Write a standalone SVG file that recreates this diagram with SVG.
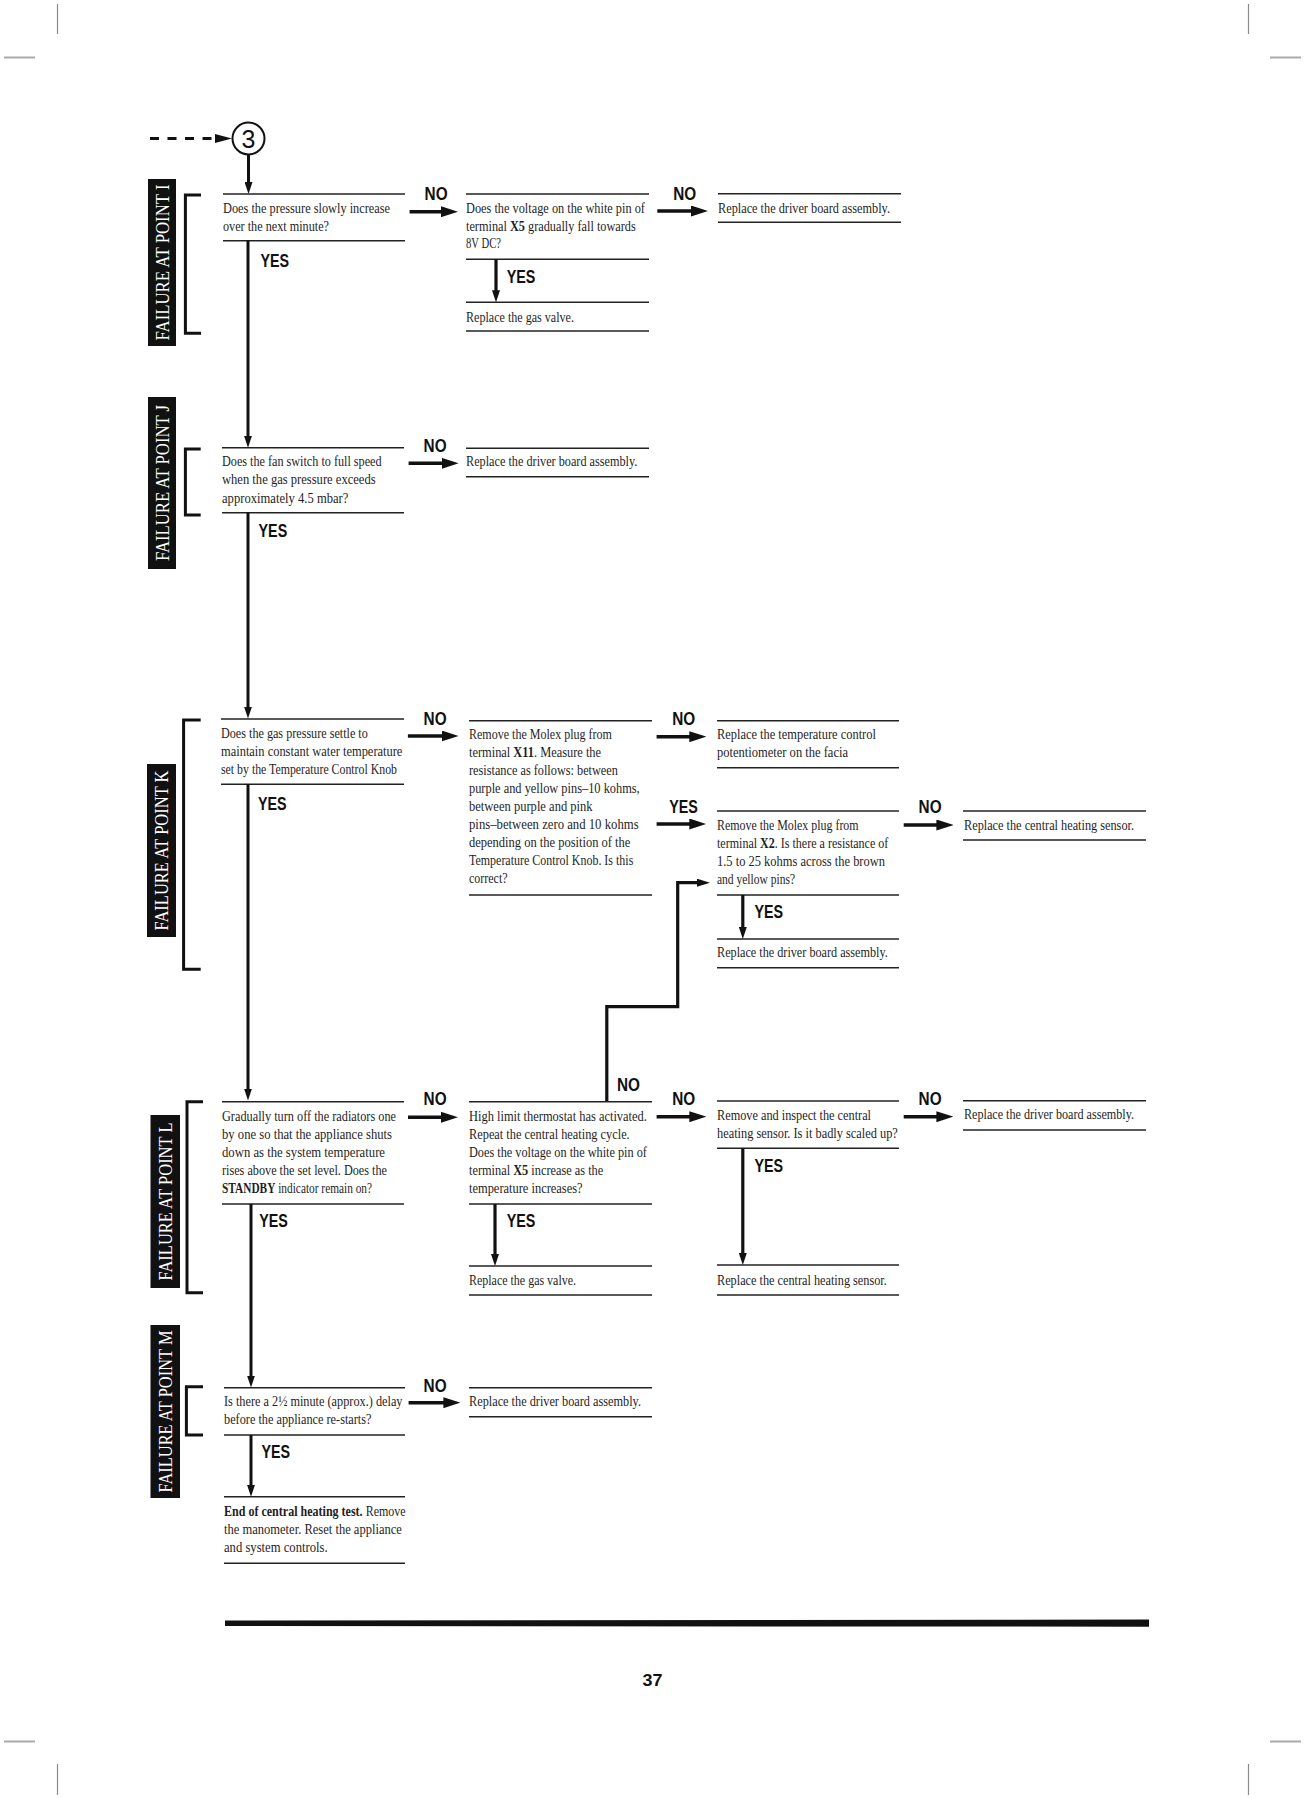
<svg xmlns="http://www.w3.org/2000/svg" width="1304" height="1798" viewBox="0 0 1304 1798">
<defs>
<style>
.t{font-family:"Liberation Serif","Times New Roman",serif;font-size:15.5px;fill:#1e1e1e}
.b{font-weight:bold}
.lbl{font-family:"Liberation Sans",Arial,sans-serif;font-weight:bold;font-size:18px;fill:#111}
.rule{stroke:#222;stroke-width:1.6}
.tag rect{fill:#111}
.tag text{fill:#fff;font-family:"Liberation Serif","Times New Roman",serif;font-size:19px;text-anchor:middle}
.main{stroke:#111;stroke-width:3;fill:none}
.har{stroke:#111;stroke-width:3.6;fill:none}
.var{stroke:#111;stroke-width:3.2;fill:none}
.brk{stroke:#111;stroke-width:3;fill:none}
.crop{stroke:#8a8a8a;fill:none}
</style>
<marker id="ah" markerUnits="userSpaceOnUse" markerWidth="17" markerHeight="11" refX="6" refY="5.5" orient="auto"><path d="M0,0 L17,5.5 L0,11 z" fill="#111"/></marker>
<marker id="av" markerUnits="userSpaceOnUse" markerWidth="12" markerHeight="8" refX="4" refY="4" orient="auto"><path d="M0,0 L12,4 L0,8 z" fill="#111"/></marker>
<marker id="al" markerUnits="userSpaceOnUse" markerWidth="13" markerHeight="8" refX="3" refY="4" orient="auto"><path d="M0,0 L13,4 L0,8 z" fill="#111"/></marker>
</defs>
<rect width="1304" height="1798" fill="#fff"/>

<g id="cropmarks" class="crop">
<line x1="57.5" y1="4" x2="57.5" y2="34" stroke-width="1.2"/>
<line x1="1248.5" y1="4" x2="1248.5" y2="34" stroke-width="1.2"/>
<line x1="57.5" y1="1764" x2="57.5" y2="1795" stroke-width="1.2"/>
<line x1="1248.5" y1="1764" x2="1248.5" y2="1795" stroke-width="1.2"/>
<line x1="4" y1="57.5" x2="35" y2="57.5" stroke-width="2" stroke="#aaa"/>
<line x1="1270" y1="57.5" x2="1301" y2="57.5" stroke-width="2" stroke="#aaa"/>
<line x1="4" y1="1741.5" x2="35" y2="1741.5" stroke-width="2" stroke="#aaa"/>
<line x1="1270" y1="1741.5" x2="1301" y2="1741.5" stroke-width="2" stroke="#aaa"/>
</g>

<g id="tags" class="tag">
<g id="tagI"><rect x="148" y="179" width="28" height="167"/><text transform="translate(162,262.5) rotate(-90)" y="6.5" textLength="156" lengthAdjust="spacingAndGlyphs">FAILURE AT POINT I</text></g>
<g id="tagJ"><rect x="148" y="397" width="28" height="172"/><text transform="translate(162,483) rotate(-90)" y="6.5" textLength="156" lengthAdjust="spacingAndGlyphs">FAILURE AT POINT J</text></g>
<g id="tagK"><rect x="147" y="764" width="29" height="173"/><text transform="translate(161.5,850.5) rotate(-90)" y="6.5" textLength="160" lengthAdjust="spacingAndGlyphs">FAILURE AT POINT K</text></g>
<g id="tagL"><rect x="150.5" y="1115" width="29.5" height="173"/><text transform="translate(165.3,1201.5) rotate(-90)" y="6.5" textLength="158" lengthAdjust="spacingAndGlyphs">FAILURE AT POINT L</text></g>
<g id="tagM"><rect x="150.5" y="1325" width="29.5" height="173"/><text transform="translate(165.3,1411.5) rotate(-90)" y="6.5" textLength="162" lengthAdjust="spacingAndGlyphs">FAILURE AT POINT M</text></g>
</g>

<g id="brackets" class="brk">
<path d="M201,195 H185.4 V333.3 H201"/>
<path d="M200.7,449 H185.4 V515 H200.7"/>
<path d="M200.7,720 H183.6 V969.3 H200.7"/>
<path d="M203,1101.7 H187 V1292.7 H203"/>
<path d="M203,1386.7 H186.4 V1435 H203"/>
</g>

<g id="start">
<circle cx="248.5" cy="138.5" r="16" fill="none" stroke="#111" stroke-width="2"/>
<text x="248.5" y="147.5" text-anchor="middle" style="font-family:'Liberation Sans',Arial,sans-serif;font-size:25px;fill:#111">3</text>
</g>

<g id="n1">
<line class="rule" x1="223" y1="194" x2="405" y2="194"/><line class="rule" x1="223" y1="240.7" x2="405" y2="240.7"/>
<text class="t" x="223" y="213.3" textLength="167" lengthAdjust="spacingAndGlyphs">Does the pressure slowly increase</text>
<text class="t" x="223" y="230.7" textLength="106" lengthAdjust="spacingAndGlyphs">over the next minute?</text>
</g>
<g id="n2">
<line class="rule" x1="466" y1="194" x2="649" y2="194"/><line class="rule" x1="466" y1="259.3" x2="649" y2="259.3"/>
<text class="t" transform="matrix(0.795,0,0,1,466,213.3)">Does the voltage on the white pin of</text>
<text class="t" transform="matrix(0.793,0,0,1,466,230.7)">terminal <tspan class="b">X5</tspan> gradually fall towards</text>
<text class="t" x="466" y="248.3" textLength="35" lengthAdjust="spacingAndGlyphs">8V DC?</text>
</g>
<g id="n2r">
<line class="rule" x1="466" y1="302.3" x2="649" y2="302.3"/><line class="rule" x1="466" y1="331" x2="649" y2="331"/>
<text class="t" x="466" y="321.7" textLength="108" lengthAdjust="spacingAndGlyphs">Replace the gas valve.</text>
</g>
<g id="n3">
<line class="rule" x1="718" y1="193.7" x2="901" y2="193.7"/><line class="rule" x1="718" y1="222.3" x2="901" y2="222.3"/>
<text class="t" x="718" y="213.3" textLength="172" lengthAdjust="spacingAndGlyphs">Replace the driver board assembly.</text>
</g>

<g id="n4">
<line class="rule" x1="222" y1="447.7" x2="404" y2="447.7"/><line class="rule" x1="222" y1="512.7" x2="404" y2="512.7"/>
<text class="t" x="222" y="466" textLength="159.6" lengthAdjust="spacingAndGlyphs">Does the fan switch to full speed</text>
<text class="t" x="222" y="484" textLength="153.6" lengthAdjust="spacingAndGlyphs">when the gas pressure exceeds</text>
<text class="t" x="222" y="502.7" textLength="126.4" lengthAdjust="spacingAndGlyphs">approximately 4.5 mbar?</text>
</g>
<g id="n5">
<line class="rule" x1="466" y1="448.3" x2="649" y2="448.3"/><line class="rule" x1="466" y1="476.7" x2="649" y2="476.7"/>
<text class="t" x="466" y="466" textLength="171.4" lengthAdjust="spacingAndGlyphs">Replace the driver board assembly.</text>
</g>

<g id="n6">
<line class="rule" x1="221" y1="719" x2="404" y2="719"/><line class="rule" x1="221" y1="784.3" x2="404" y2="784.3"/>
<text class="t" x="221" y="738.3" textLength="146.8" lengthAdjust="spacingAndGlyphs">Does the gas pressure settle to</text>
<text class="t" x="221" y="756" textLength="181.4" lengthAdjust="spacingAndGlyphs">maintain constant water temperature</text>
<text class="t" x="221" y="774" textLength="176" lengthAdjust="spacingAndGlyphs">set by the Temperature Control Knob</text>
</g>
<g id="n7">
<line class="rule" x1="469" y1="720.7" x2="652" y2="720.7"/><line class="rule" x1="469" y1="895" x2="652" y2="895"/>
<text class="t" x="469" y="739.3" textLength="142.9" lengthAdjust="spacingAndGlyphs">Remove the Molex plug from</text>
<text class="t" transform="matrix(0.8,0,0,1,469,757.3)">terminal <tspan class="b">X11</tspan>. Measure the</text>
<text class="t" x="469" y="775.3" textLength="148.9" lengthAdjust="spacingAndGlyphs">resistance as follows: between</text>
<text class="t" x="469" y="793.3" textLength="170.7" lengthAdjust="spacingAndGlyphs">purple and yellow pins–10 kohms,</text>
<text class="t" x="469" y="811.3" textLength="123.6" lengthAdjust="spacingAndGlyphs">between purple and pink</text>
<text class="t" x="469" y="829.3" textLength="169.6" lengthAdjust="spacingAndGlyphs">pins–between  zero and 10 kohms</text>
<text class="t" x="469" y="847.3" textLength="161.4" lengthAdjust="spacingAndGlyphs">depending on the position of the</text>
<text class="t" x="469" y="865.3" textLength="164.3" lengthAdjust="spacingAndGlyphs">Temperature Control Knob. Is this</text>
<text class="t" x="469" y="883.3" textLength="38.6" lengthAdjust="spacingAndGlyphs">correct?</text>
</g>
<g id="n8">
<line class="rule" x1="717" y1="720.7" x2="899" y2="720.7"/><line class="rule" x1="717" y1="767.7" x2="899" y2="767.7"/>
<text class="t" x="717" y="739.3" textLength="158.9" lengthAdjust="spacingAndGlyphs">Replace the temperature control</text>
<text class="t" x="717" y="757.3" textLength="131" lengthAdjust="spacingAndGlyphs">potentiometer on the facia</text>
</g>
<g id="n9">
<line class="rule" x1="717" y1="811" x2="899" y2="811"/><line class="rule" x1="717" y1="895" x2="899" y2="895"/>
<text class="t" x="717" y="830" textLength="141.6" lengthAdjust="spacingAndGlyphs">Remove the Molex plug from</text>
<text class="t" transform="matrix(0.777,0,0,1,717,848)">terminal <tspan class="b">X2</tspan>. Is there a resistance of</text>
<text class="t" x="717" y="866" textLength="168" lengthAdjust="spacingAndGlyphs">1.5 to 25 kohms across the brown</text>
<text class="t" x="717" y="884" textLength="78" lengthAdjust="spacingAndGlyphs">and yellow pins?</text>
</g>
<g id="n9r">
<line class="rule" x1="717" y1="939" x2="899" y2="939"/><line class="rule" x1="717" y1="967.7" x2="899" y2="967.7"/>
<text class="t" x="717" y="956.7" textLength="170.8" lengthAdjust="spacingAndGlyphs">Replace the driver board assembly.</text>
</g>
<g id="n10">
<line class="rule" x1="963" y1="811" x2="1146" y2="811"/><line class="rule" x1="963" y1="840" x2="1146" y2="840"/>
<text class="t" x="964" y="830" textLength="170" lengthAdjust="spacingAndGlyphs">Replace the central heating sensor.</text>
</g>

<g id="n11">
<line class="rule" x1="222" y1="1101.7" x2="404" y2="1101.7"/><line class="rule" x1="222" y1="1204" x2="404" y2="1204"/>
<text class="t" x="222" y="1120.7" textLength="174" lengthAdjust="spacingAndGlyphs">Gradually turn off the radiators one</text>
<text class="t" x="222" y="1139" textLength="170" lengthAdjust="spacingAndGlyphs">by one so that the appliance shuts</text>
<text class="t" x="222" y="1157" textLength="163" lengthAdjust="spacingAndGlyphs">down as the system temperature</text>
<text class="t" x="222" y="1175.3" textLength="165" lengthAdjust="spacingAndGlyphs">rises above the set level. Does the</text>
<text class="t" transform="matrix(0.732,0,0,1,222,1193.3)"><tspan class="b">STANDBY</tspan> indicator remain on?</text>
</g>
<g id="n12">
<line class="rule" x1="469" y1="1101.7" x2="652" y2="1101.7"/><line class="rule" x1="469" y1="1204" x2="652" y2="1204"/>
<text class="t" x="469" y="1120.7" textLength="177.9" lengthAdjust="spacingAndGlyphs">High limit thermostat has activated.</text>
<text class="t" x="469" y="1139" textLength="160.7" lengthAdjust="spacingAndGlyphs">Repeat the central heating cycle.</text>
<text class="t" x="469" y="1157" textLength="177.9" lengthAdjust="spacingAndGlyphs">Does the voltage on the white pin of</text>
<text class="t" transform="matrix(0.796,0,0,1,469,1175.3)">terminal <tspan class="b">X5</tspan> increase as the</text>
<text class="t" x="469" y="1193.3" textLength="113.6" lengthAdjust="spacingAndGlyphs">temperature increases?</text>
</g>
<g id="n12r">
<line class="rule" x1="469" y1="1266" x2="652" y2="1266"/><line class="rule" x1="469" y1="1295" x2="652" y2="1295"/>
<text class="t" x="469" y="1285" textLength="107" lengthAdjust="spacingAndGlyphs">Replace the gas valve.</text>
</g>
<g id="n13">
<line class="rule" x1="717" y1="1101" x2="899" y2="1101"/><line class="rule" x1="717" y1="1148.3" x2="899" y2="1148.3"/>
<text class="t" x="717" y="1120" textLength="154" lengthAdjust="spacingAndGlyphs">Remove and inspect the central</text>
<text class="t" x="717" y="1138.3" textLength="180.8" lengthAdjust="spacingAndGlyphs">heating sensor. Is it badly scaled up?</text>
</g>
<g id="n13r">
<line class="rule" x1="717" y1="1265" x2="899" y2="1265"/><line class="rule" x1="717" y1="1295" x2="899" y2="1295"/>
<text class="t" x="717" y="1285" textLength="169.8" lengthAdjust="spacingAndGlyphs">Replace the central heating sensor.</text>
</g>
<g id="n14">
<line class="rule" x1="963" y1="1100.7" x2="1146" y2="1100.7"/><line class="rule" x1="963" y1="1130" x2="1146" y2="1130"/>
<text class="t" x="964" y="1119.3" textLength="170" lengthAdjust="spacingAndGlyphs">Replace the driver board assembly.</text>
</g>

<g id="n15">
<line class="rule" x1="224" y1="1387.7" x2="405" y2="1387.7"/><line class="rule" x1="224" y1="1435" x2="405" y2="1435"/>
<text class="t" transform="matrix(0.792,0,0,1,224,1406)">Is there a 2½ minute (approx.) delay</text>
<text class="t" x="224" y="1424" textLength="147.5" lengthAdjust="spacingAndGlyphs">before the appliance re-starts?</text>
</g>
<g id="n16">
<line class="rule" x1="469" y1="1387.7" x2="652" y2="1387.7"/><line class="rule" x1="469" y1="1416.7" x2="652" y2="1416.7"/>
<text class="t" x="469" y="1406" textLength="172" lengthAdjust="spacingAndGlyphs">Replace the driver board assembly.</text>
</g>
<g id="n17">
<line class="rule" x1="224" y1="1496.7" x2="405" y2="1496.7"/><line class="rule" x1="224" y1="1563.3" x2="405" y2="1563.3"/>
<text class="t" transform="matrix(0.777,0,0,1,224,1516)"><tspan class="b">End of central heating test.</tspan> Remove</text>
<text class="t" x="224" y="1534" textLength="177.9" lengthAdjust="spacingAndGlyphs">the manometer. Reset the appliance</text>
<text class="t" x="224" y="1552.3" textLength="103.6" lengthAdjust="spacingAndGlyphs">and system controls.</text>
</g>

<g id="connectors">
<line x1="150" y1="138.5" x2="212" y2="138.5" stroke="#111" stroke-width="3" stroke-dasharray="9 8.5"/>
<path d="M215,134 L232,138.5 L215,143 z" fill="#111"/>
<line class="main" x1="248.5" y1="154.5" x2="248.5" y2="186" marker-end="url(#av)"/>
<line class="main" x1="248" y1="240.7" x2="248" y2="439.7" marker-end="url(#av)"/>
<line class="main" x1="248" y1="512.7" x2="248" y2="710.5" marker-end="url(#av)"/>
<line class="main" x1="248" y1="784.3" x2="248" y2="1092.5" marker-end="url(#av)"/>
<line class="main" x1="251" y1="1204" x2="251" y2="1379.5" marker-end="url(#av)"/>
<line class="main" x1="251" y1="1435" x2="251" y2="1488.7" marker-end="url(#av)"/>

<line class="var" x1="496" y1="259.3" x2="496" y2="294.3" marker-end="url(#av)"/>
<line class="var" x1="742.8" y1="895" x2="742.8" y2="931" marker-end="url(#av)"/>
<line class="var" x1="495" y1="1204" x2="495" y2="1258" marker-end="url(#av)"/>
<line class="var" x1="742.8" y1="1148.3" x2="742.8" y2="1257" marker-end="url(#av)"/>

<line class="har" x1="409.6" y1="211.7" x2="447" y2="211.7" marker-end="url(#ah)"/>
<line class="har" x1="657.3" y1="211" x2="697" y2="211" marker-end="url(#ah)"/>
<line class="har" x1="408.6" y1="463.3" x2="447.6" y2="463.3" marker-end="url(#ah)"/>
<line class="har" x1="407.9" y1="736" x2="447.6" y2="736" marker-end="url(#ah)"/>
<line class="har" x1="656.6" y1="736.7" x2="695.3" y2="736.7" marker-end="url(#ah)"/>
<line class="har" x1="656.6" y1="824" x2="695.3" y2="824" marker-end="url(#ah)"/>
<line class="har" x1="903.7" y1="825" x2="942.4" y2="825" marker-end="url(#ah)"/>
<line class="har" x1="408" y1="1117.3" x2="447" y2="1117.3" marker-end="url(#ah)"/>
<line class="har" x1="656.6" y1="1116.7" x2="695.3" y2="1116.7" marker-end="url(#ah)"/>
<line class="har" x1="903.7" y1="1116.7" x2="942.4" y2="1116.7" marker-end="url(#ah)"/>
<line class="har" x1="408.6" y1="1402.7" x2="449.4" y2="1402.7" marker-end="url(#ah)"/>

<path class="var" d="M606.8,1101 V1006.7 H677.7 V882.7 H700" marker-end="url(#al)"/>

<text class="lbl" x="424.6" y="200" textLength="23" lengthAdjust="spacingAndGlyphs">NO</text>
<text class="lbl" x="673.3" y="200" textLength="23" lengthAdjust="spacingAndGlyphs">NO</text>
<text class="lbl" x="260.4" y="266.7" textLength="28.6" lengthAdjust="spacingAndGlyphs">YES</text>
<text class="lbl" x="506.8" y="283.3" textLength="28.6" lengthAdjust="spacingAndGlyphs">YES</text>
<text class="lbl" x="423.6" y="451.7" textLength="23" lengthAdjust="spacingAndGlyphs">NO</text>
<text class="lbl" x="258.6" y="537.3" textLength="28.6" lengthAdjust="spacingAndGlyphs">YES</text>
<text class="lbl" x="423.6" y="725" textLength="23" lengthAdjust="spacingAndGlyphs">NO</text>
<text class="lbl" x="672.2" y="725" textLength="23" lengthAdjust="spacingAndGlyphs">NO</text>
<text class="lbl" x="669.2" y="812.7" textLength="28.6" lengthAdjust="spacingAndGlyphs">YES</text>
<text class="lbl" x="918.6" y="813.3" textLength="23" lengthAdjust="spacingAndGlyphs">NO</text>
<text class="lbl" x="257.9" y="810" textLength="28.6" lengthAdjust="spacingAndGlyphs">YES</text>
<text class="lbl" x="754.4" y="918.3" textLength="28.6" lengthAdjust="spacingAndGlyphs">YES</text>
<text class="lbl" x="617" y="1090.5" textLength="23" lengthAdjust="spacingAndGlyphs">NO</text>
<text class="lbl" x="423.6" y="1105" textLength="23" lengthAdjust="spacingAndGlyphs">NO</text>
<text class="lbl" x="672.2" y="1105" textLength="23" lengthAdjust="spacingAndGlyphs">NO</text>
<text class="lbl" x="918.6" y="1105" textLength="23" lengthAdjust="spacingAndGlyphs">NO</text>
<text class="lbl" x="259.3" y="1226.7" textLength="28.6" lengthAdjust="spacingAndGlyphs">YES</text>
<text class="lbl" x="506.8" y="1226.7" textLength="28.6" lengthAdjust="spacingAndGlyphs">YES</text>
<text class="lbl" x="754.4" y="1171.7" textLength="28.6" lengthAdjust="spacingAndGlyphs">YES</text>
<text class="lbl" x="423.6" y="1391.7" textLength="23" lengthAdjust="spacingAndGlyphs">NO</text>
<text class="lbl" x="261.4" y="1458.3" textLength="28.6" lengthAdjust="spacingAndGlyphs">YES</text>
</g>

<g id="footer">
<path d="M225,1620.5 L1149,1619.5 L1149,1626.7 L225,1626 z" fill="#111"/>
<text x="652.5" y="1686" text-anchor="middle" textLength="20" lengthAdjust="spacingAndGlyphs" style="font-family:'Liberation Sans',Arial,sans-serif;font-weight:bold;font-size:17px;fill:#111">37</text>
</g>
</svg>
